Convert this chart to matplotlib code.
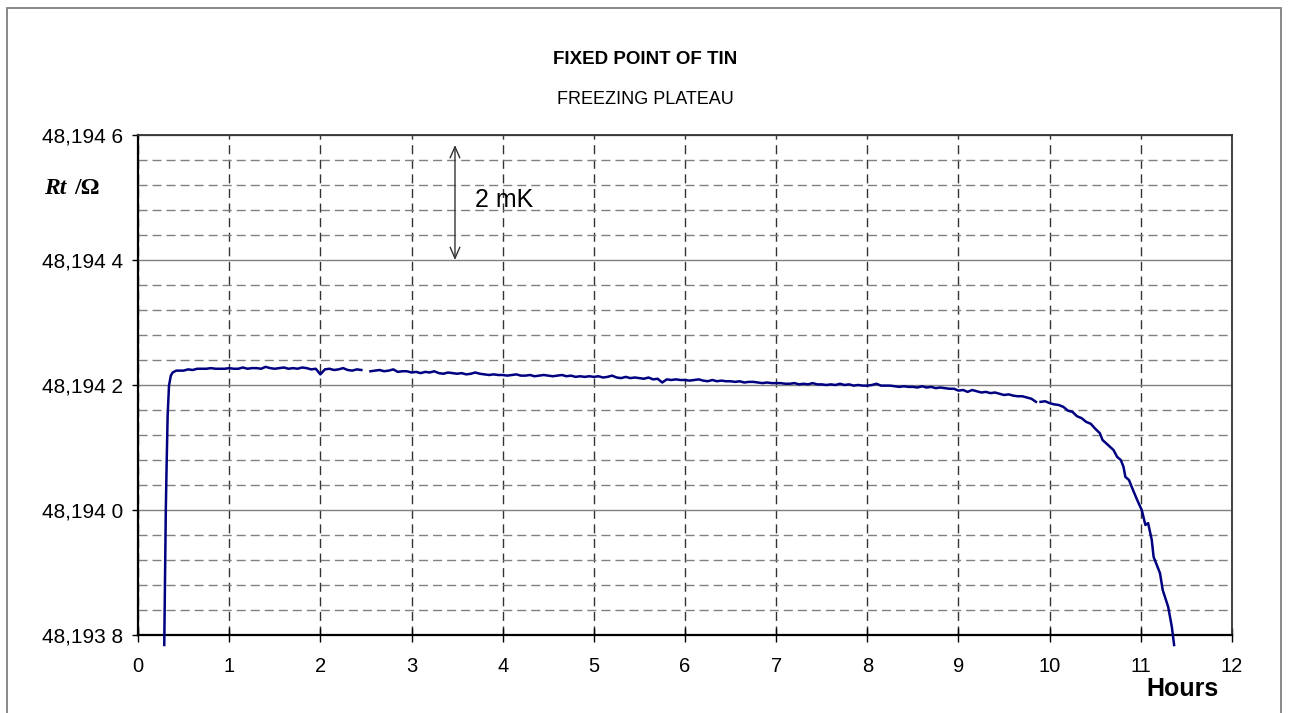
import matplotlib
matplotlib.use('Agg')
import matplotlib.pyplot as plt
import numpy as np
from matplotlib.patches import Rectangle

plt.rcParams['font.family'] = ['Liberation Sans', 'DejaVu Sans']
plt.rcParams['lines.scale_dashes'] = False

# ---------------- data ----------------
BASE = 48.1942          # ohm; values below are offsets in micro-ohm

rise_hours = [0.288, 0.296, 0.305, 0.315, 0.325, 0.340, 0.360, 0.380, 0.420]
rise_uohm = [-416, -310, -200, -120, -50, -1, 15, 20, 23]

seg1_start, seg1_step = 0.45, 0.05
seg1_uohm = [23, 23, 25, 24, 26, 26, 26, 27, 26, 26, 26,
             27, 26, 26, 28, 26, 27, 27, 26, 29, 27, 26, 27, 28, 26, 27, 26, 28, 27, 25, 26,
             17, 25, 26, 24, 25, 27, 24, 23, 25, 24]

seg2_start, seg2_step = 2.55, 0.05
seg2_uohm = [22, 23, 24, 22, 23, 25, 21, 22, 22,
             20, 21, 19, 21, 20, 22, 19, 18, 20, 19,
             18, 19, 17, 18, 20, 18, 17, 16, 17, 16,
             16, 15, 16, 17, 15, 15, 16, 14, 15, 16,
             15, 14, 15, 16, 14, 15, 13, 14, 13, 14,
             13, 14, 12, 13, 15, 12, 11, 13, 11, 12,
             11, 10, 12, 9, 10, 4, 9, 8, 9, 8,
             8, 7, 8, 9, 7, 6, 8, 6, 7, 6,
             6, 5, 6, 4, 5, 5, 4, 3, 4, 3,
             3, 3, 2, 2, 3, 1, 2, 1, 3, 1,
             1, 0, 1, 0, 2, 0, 1, -1, 0, -1,
             -1, 0, 2, -1, -1, -1, -2, -3, -2, -3,
             -3, -4, -2, -4, -3, -5, -4, -5, -6, -6,
             -9, -8, -11, -8, -10, -12, -11, -13, -12, -14,
             -16, -15, -17, -18, -18, -20, -22, -27]

seg3_start, seg3_step = 9.90, 0.05
seg3_uohm = [-27, -26, -29, -31, -32, -35, -41, -43, -50, -53, -59, -62, -70, -77]

fall_hours = [10.58, 10.64, 10.70, 10.74, 10.78, 10.81, 10.83, 10.87, 10.90, 10.96,
              11.01, 11.05, 11.08, 11.12, 11.14, 11.21, 11.24, 11.30, 11.34, 11.365]
fall_uohm = [-88, -96, -104, -115, -120, -131, -147, -152, -163, -184,
             -200, -224, -221, -248, -275, -301, -328, -355, -387, -416]

x_ticks = list(range(0, 13))
y_major = [48.1938, 48.1940, 48.1942, 48.1944, 48.1946]
y_tick_labels = ['48,193 8', '48,194 0', '48,194 2', '48,194 4', '48,194 6']

title = 'FIXED POINT OF TIN'
subtitle = 'FREEZING PLATEAU'
x_label = 'Hours'
mk_label = '2 mK'

# ---------------- build series ----------------
def seg(start, step, vals):
    h = [round(start + i * step, 3) for i in range(len(vals))]
    return h, list(vals)

h1, v1 = seg(seg1_start, seg1_step, seg1_uohm)
h2, v2 = seg(seg2_start, seg2_step, seg2_uohm)
h3, v3 = seg(seg3_start, seg3_step, seg3_uohm)

hours = rise_hours + h1 + [2.50] + h2 + [9.875] + h3 + fall_hours
uohm = rise_uohm + v1 + [np.nan] + v2 + [np.nan] + v3 + fall_uohm
hours = np.array(hours, dtype=float)
res = BASE + np.array(uohm, dtype=float) * 1e-6

# ---------------- figure ----------------
W, H = 1292, 713
fig = plt.figure(figsize=(W / 100, H / 100), dpi=100)
ax = fig.add_axes([138 / W, 1 - 635 / H, (1232 - 138) / W, (635 - 135) / H])

border = Rectangle((7 / W, -0.02), (1281 - 7) / W, (1 - 8 / H) + 0.02,
                   transform=fig.transFigure, fill=False, ec='#808080', lw=1.3)
fig.patches.append(border)

ax.plot(hours, res, color='#000080', lw=1.8, clip_on=False, zorder=5)

ax.set_xlim(0, 12)
ax.set_ylim(48.1938, 48.1946)
ax.set_xticks(x_ticks)
ax.set_yticks(y_major)
ax.set_yticklabels(y_tick_labels)
minor = [48.1938 + i * 0.00004 for i in range(21) if i % 5 != 0]
ax.set_yticks(minor, minor=True)

ax.yaxis.grid(True, which='major', color='#808080', lw=1.0, ls='-')
ax.yaxis.grid(True, which='minor', color='#808080', lw=1.0, ls=(0, (6.5, 3.6)))
ax.xaxis.grid(True, which='major', color='#333333', lw=1.0, ls=(0, (6.5, 4.0)))
ax.set_axisbelow(True)

ax.tick_params(axis='x', which='major', direction='inout', length=10, width=1,
               pad=11, labelsize=14.5, colors='black')
ax.tick_params(axis='y', which='major', direction='out', length=4.5, width=1,
               pad=6, labelsize=15, colors='black')
ax.tick_params(axis='y', which='minor', length=0)

for s in ['left', 'bottom']:
    ax.spines[s].set_linewidth(1.6)
    ax.spines[s].set_color('black')
for s in ['top', 'right']:
    ax.spines[s].set_linewidth(1.3)
    ax.spines[s].set_color('#333333')

# titles
fig.text(645 / W, 1 - 60 / H, title, ha='center', va='center', fontsize=13.5, fontweight='bold')
fig.text(645 / W, 1 - 99 / H, subtitle, ha='center', va='center', fontsize=13)

# y label
fig.text(44 / W, 1 - 188 / H, 'Rt', family=['Liberation Serif', 'DejaVu Serif'],
         style='italic', weight='bold', fontsize=17, va='center', ha='left')
fig.text(74 / W, 1 - 188 / H, '/Ω', family=['Liberation Serif', 'DejaVu Serif'],
         weight='bold', fontsize=17, va='center', ha='left')

# x label
fig.text(1182 / W, 1 - 689 / H, x_label, ha='center', va='center', fontsize=18, fontweight='bold')

# 2 mK arrow
ax.annotate('', xy=(3.477, 48.194584), xytext=(3.477, 48.1944),
            arrowprops=dict(arrowstyle='<->,head_length=0.8,head_width=0.35',
                            color='#333333', lw=1.0, shrinkA=0, shrinkB=0))
ax.text(3.70, 48.194496, mk_label, fontsize=18, ha='left', va='center')

fig.savefig('out.png', dpi=100)
